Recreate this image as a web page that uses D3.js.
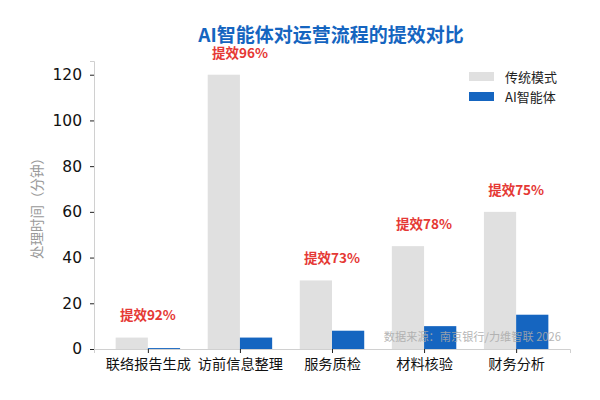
<!DOCTYPE html>
<html>
<head>
<meta charset="utf-8">
<script src="https://cdn.jsdelivr.net/npm/d3@7"></script>
<style>
body { margin: 0; background: #fff; }
text { font-family: "DejaVu Sans", "Noto Sans CJK SC", sans-serif; }
.cjk { font-family: "Noto Sans CJK SC", "DejaVu Sans", sans-serif; }
</style>
</head>
<body>
<div id="chart"></div>
<script>
var w = 600;
var h = 400;

// data
var categories = ["联络报告生成", "访前信息整理", "服务质检", "材料核验", "财务分析"];
var traditional = [5, 120, 30, 45, 60];
var aiAgent = [0.4, 5, 8, 10, 15];
var gains = ["提效92%", "提效96%", "提效73%", "提效78%", "提效75%"];
var yTicks = [0, 20, 40, 60, 80, 100, 120];
var seriesNames = ["传统模式", "AI智能体"];
var seriesColors = ["#e0e0e0", "#1565c0"];

var margin = {left: 94, right: 30, top: 61, bottom: 51};

var svg = d3.select("#chart").append("svg")
    .attr("width", w)
    .attr("height", h);

var barW = 0.35;
var x = d3.scaleLinear()
    .domain([-0.585, categories.length - 1 + 0.585])
    .range([margin.left, w - margin.right]);
var y = d3.scaleLinear()
    .domain([0, 126])
    .range([h - margin.bottom, margin.top]);

// title
svg.append("text")
    .attr("class", "cjk")
    .attr("x", 331)
    .attr("y", 42)
    .attr("text-anchor", "middle")
    .attr("font-size", 19)
    .attr("font-weight", "bold")
    .attr("fill", "#1565c0")
    .text("AI智能体对运营流程的提效对比");

// bars
svg.selectAll(".trad")
    .data(traditional)
    .enter()
    .append("rect")
    .attr("x", (d, i) => x(i - barW))
    .attr("width", (d, i) => x(barW) - x(0))
    .attr("y", d => y(d))
    .attr("height", d => y(0) - y(d))
    .attr("fill", seriesColors[0]);

svg.selectAll(".ai")
    .data(aiAgent)
    .enter()
    .append("rect")
    .attr("x", (d, i) => x(i))
    .attr("width", (d, i) => x(barW) - x(0))
    .attr("y", d => y(d))
    .attr("height", d => y(0) - y(d))
    .attr("fill", seriesColors[1]);

// improvement labels
svg.selectAll(".gain")
    .data(gains)
    .enter()
    .append("text")
    .attr("class", "cjk")
    .attr("x", (d, i) => x(i))
    .attr("y", (d, i) => y(traditional[i] + 7.5))
    .attr("text-anchor", "middle")
    .attr("font-size", 13.5)
    .attr("font-weight", "bold")
    .attr("fill", "#e53935")
    .text(d => d);

// axes
var yAxis = svg.append("g")
    .attr("transform", "translate(" + margin.left + ",0)")
    .call(d3.axisLeft(y).tickValues(yTicks).tickSize(4).tickPadding(8));
yAxis.select(".domain").attr("stroke", "#d0d0d0");
yAxis.selectAll(".tick line").attr("stroke", "#222");
yAxis.selectAll(".tick text").attr("font-size", 15.5).attr("fill", "#111")
    .attr("font-family", "DejaVu Sans");

var xAxis = svg.append("g")
    .attr("transform", "translate(0," + (h - margin.bottom) + ")")
    .call(d3.axisBottom(x).tickValues(d3.range(categories.length))
        .tickFormat(i => categories[i]).tickSize(4).tickPadding(6));
xAxis.select(".domain").attr("stroke", "#d0d0d0");
xAxis.selectAll(".tick line").attr("stroke", "#222");
xAxis.selectAll(".tick text").attr("font-size", 14.2).attr("fill", "#111")
    .attr("font-family", "Noto Sans CJK SC");

// y label
svg.append("text")
    .attr("class", "cjk")
    .attr("transform", "translate(42," + y(63) + ") rotate(-90)")
    .attr("text-anchor", "middle")
    .attr("font-size", 13.5)
    .attr("fill", "#999")
    .text("处理时间（分钟）");

// legend
var legend = svg.append("g").attr("transform", "translate(469,72)");
seriesNames.forEach(function(name, i) {
    legend.append("rect")
        .attr("x", 0)
        .attr("y", i * 20)
        .attr("width", 25)
        .attr("height", 9)
        .attr("fill", seriesColors[i]);
    legend.append("text")
        .attr("class", "cjk")
        .attr("x", 36)
        .attr("y", i * 20 + 5)
        .attr("dy", "0.35em")
        .attr("font-size", 13)
        .attr("fill", "#222")
        .text(name);
});

// source note
svg.append("text")
    .attr("class", "cjk")
    .attr("x", 561)
    .attr("y", 341)
    .attr("text-anchor", "end")
    .attr("font-size", 11.2)
    .attr("fill", "#aaa")
    .attr("opacity", 0.85)
    .text("数据来源：南京银行/力维智联 2026");
</script>
</body>
</html>
